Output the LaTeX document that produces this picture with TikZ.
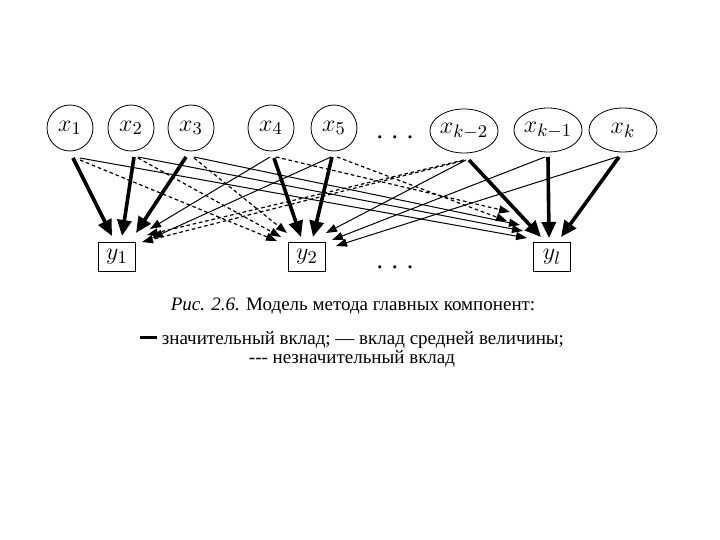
\documentclass[tikz,border=0pt]{standalone}
\usepackage{fontspec}
\setmainfont{Liberation Serif}
\usepackage{tikz}
\usetikzlibrary{arrows.meta,calc}
\tikzset{xn/.style={draw,circle,minimum size=23pt,inner sep=0pt,font=\fontsize{12.5}{14}\selectfont},xe/.style={draw,ellipse,minimum width=34pt,minimum height=22pt,inner sep=0pt,font=\fontsize{12.5}{14}\selectfont},yb/.style={draw,minimum width=18.5pt,minimum height=14.5pt,inner sep=0pt,font=\fontsize{12.5}{14}\selectfont},strong/.style={-{Triangle[length=8pt,width=7pt]},line width=1.8pt},mid/.style={-{Triangle[length=5.5pt,width=4pt]},line width=0.5pt},weak/.style={mid,dash pattern=on 1.8pt off 1.4pt,line width=0.6pt},txt/.style={font=\fontsize{9.5}{11}\selectfont}}
\usetikzlibrary{shapes.geometric}
\begin{document}
\begin{tikzpicture}[x=0.5pt,y=-0.5pt]
\useasboundingbox (0,0) rectangle (720,540);
\node[xn] (x1) at (70,128) {$x_1$};
\node[xn] (x2) at (131,128) {$x_2$};
\node[xn] (x3) at (191,128) {$x_3$};
\node[xn] (x4) at (271,128) {$x_4$};
\node[xn] (x5) at (334,128) {$x_5$};
\node[font=\fontsize{13}{14}\selectfont] (dt) at (395,137) {.\,\,.\,\,.};
\node[xe] (xk2) at (464,131) {$x_{k-2}$};
\node[xe] (xk1) at (548,130) {$x_{k-1}$};
\node[xe] (xk) at (623,130) {$x_k$};
\node[yb] (y1) at (117,257) {$y_1$};
\node[yb] (y2) at (307,257) {$y_2$};
\node[yb] (yl) at (552,257) {$y_l$};
\node[font=\fontsize{13}{14}\selectfont] (db) at (395,267) {.\,\,.\,\,.};
% large contribution
\draw[strong] ($(x1)+(3,30)$)--($(y1)+(-5,-21)$);\draw[strong] ($(x2)+(3,29)$)--($(y1)+(5,-21)$);\draw[strong] ($(x3)+(-5,29)$)--($(y1)+(19,-24)$);
\draw[strong] ($(x4)+(3,30)$)--($(y2)+(-6,-20)$);\draw[strong] ($(x5)+(-2,29)$)--($(y2)+(6,-20)$);
\draw[strong] ($(xk2)+(5,29)$)--($(yl)+(-11,-20)$);\draw[strong] ($(xk1)+(0,27)$)--($(yl)+(-3,-19)$);\draw[strong] ($(xk)+(-4,27)$)--($(yl)+(9,-20)$);
% medium contribution
\draw[mid] ($(x1)+(10,30)$)--($(yl)+(-25,-19)$);\draw[mid] ($(x2)+(7,29)$)--($(yl)+(-29,-26)$);\draw[mid] ($(x3)+(3,29)$)--($(yl)+(-32,-32)$);
\draw[mid] ($(x4)+(-1,29)$)--($(y1)+(33,-28)$);\draw[mid] ($(x5)+(-3,29)$)--($(y1)+(35,-19)$);
\draw[mid] ($(xk2)+(2,29)$)--($(y2)+(19,-24)$);\draw[mid] ($(xk1)+(-3,27)$)--($(y2)+(25,-17)$);\draw[mid] ($(xk)+(-6,27)$)--($(y2)+(29,-11)$);
% small contribution
\draw[weak] ($(x1)+(10,32)$)--($(y2)+(-30,-16)$);\draw[weak] ($(x2)+(7,30)$)--($(y2)+(-26,-20)$);\draw[weak] ($(x3)+(3,30)$)--($(y2)+(-20,-24)$);
\draw[weak] ($(x4)+(5,29)$)--($(yl)+(-42,-45)$);\draw[weak] ($(x5)+(3,29)$)--($(yl)+(-45,-36)$);
\draw[weak] ($(xk2)+(0,29)$)--($(y1)+(30,-22)$);\draw[weak] ($(xk2)+(-2,30)$)--($(y1)+(25,-15)$);
% caption
\node[txt] (cap) at (353,306) {\textit{Рис. 2.6.} Модель метода главных компонент:};
\node[txt] (lg1) at (352,340) {\rule[0.6ex]{0.9em}{1.4pt} значительный вклад; — вклад средней величины;};
\node[txt] (lg2) at (352,359) {-{}-{}- незначительный вклад};
\end{tikzpicture}
\end{document}
